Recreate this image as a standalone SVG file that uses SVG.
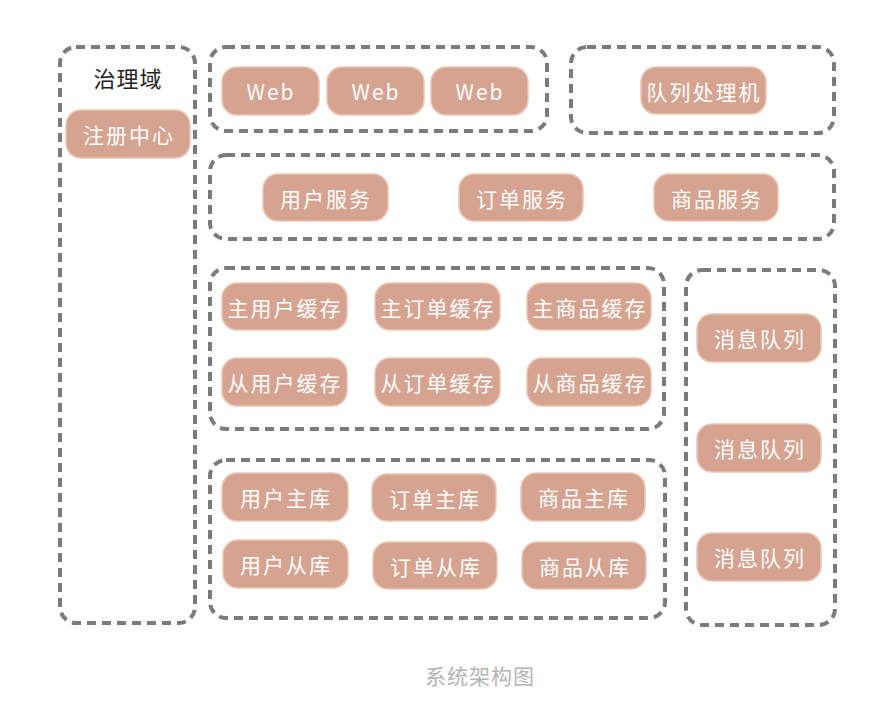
<svg xmlns="http://www.w3.org/2000/svg" width="884" height="722" viewBox="0 0 884 722">
  <style>
    .zone { fill: none; stroke: #7b7b7b; stroke-width: 4; stroke-dasharray: 9 6; }
    .node rect { fill: #d6a390; stroke: #ecc6b6; stroke-width: 1.5; }
    .node text, .title, .caption { font-family: "Noto Sans CJK SC", "Noto Sans", sans-serif; text-anchor: middle; dominant-baseline: central; }
    .node text { fill: #ffffff; font-size: 21px; letter-spacing: 2px; }
    .title { fill: #222222; font-size: 22px; letter-spacing: 1px; }
    .caption { fill: #b4b4b4; font-size: 21px; letter-spacing: 1px; }
  </style>
  <rect width="884" height="722" fill="#ffffff"/>

  <!-- dashed zones -->
  <g id="zones">
    <rect id="zone-governance" class="zone" x="60" y="47" width="135" height="576" rx="16"/>
    <rect id="zone-web" class="zone" x="210" y="47" width="337" height="84" rx="16"/>
    <rect id="zone-queue-worker" class="zone" x="571" y="47" width="263" height="86" rx="16"/>
    <rect id="zone-services" class="zone" x="210" y="155" width="624" height="84" rx="16"/>
    <rect id="zone-cache" class="zone" x="210" y="268" width="454" height="161" rx="16"/>
    <rect id="zone-db" class="zone" x="210" y="460" width="455" height="158" rx="16"/>
    <rect id="zone-mq" class="zone" x="686" y="270" width="149" height="355" rx="16"/>
  </g>

  <text class="title" x="128" y="77">治理域</text>

  <!-- connectors: none drawn -->
  <g id="connectors"></g>

  <g id="registry" class="node"><rect x="66" y="110" width="124" height="48" rx="15"/><text x="129" y="134">注册中心</text></g>

  <g id="web-1" class="node"><rect x="222" y="67" width="97" height="48" rx="15"/><text x="271" y="91">Web</text></g>
  <g id="web-2" class="node"><rect x="327" y="67" width="97" height="48" rx="15"/><text x="376" y="91">Web</text></g>
  <g id="web-3" class="node"><rect x="431" y="67" width="97" height="48" rx="15"/><text x="480" y="91">Web</text></g>

  <g id="queue-worker" class="node"><rect x="641" y="67" width="125" height="47" rx="15"/><text x="704" y="91">队列处理机</text></g>

  <g id="svc-user" class="node"><rect x="263" y="174" width="125" height="47" rx="15"/><text x="326" y="198">用户服务</text></g>
  <g id="svc-order" class="node"><rect x="459" y="174" width="124" height="47" rx="15"/><text x="522" y="198">订单服务</text></g>
  <g id="svc-product" class="node"><rect x="654" y="174" width="124" height="47" rx="15"/><text x="717" y="198">商品服务</text></g>

  <g id="cache-user-master" class="node"><rect x="222" y="283" width="125" height="47" rx="15"/><text x="285" y="307">主用户缓存</text></g>
  <g id="cache-order-master" class="node"><rect x="375" y="283" width="125" height="47" rx="15"/><text x="438" y="307">主订单缓存</text></g>
  <g id="cache-product-master" class="node"><rect x="527" y="283" width="124" height="47" rx="15"/><text x="590" y="307">主商品缓存</text></g>
  <g id="cache-user-slave" class="node"><rect x="222" y="358" width="125" height="48" rx="15"/><text x="285" y="382">从用户缓存</text></g>
  <g id="cache-order-slave" class="node"><rect x="375" y="358" width="125" height="48" rx="15"/><text x="438" y="382">从订单缓存</text></g>
  <g id="cache-product-slave" class="node"><rect x="527" y="358" width="124" height="48" rx="15"/><text x="590" y="382">从商品缓存</text></g>

  <g id="db-user-master" class="node"><rect x="222" y="473" width="126" height="48" rx="15"/><text x="286" y="497">用户主库</text></g>
  <g id="db-order-master" class="node"><rect x="372" y="474" width="124" height="47" rx="15"/><text x="435" y="498">订单主库</text></g>
  <g id="db-product-master" class="node"><rect x="521" y="473" width="124" height="48" rx="15"/><text x="584" y="497">商品主库</text></g>
  <g id="db-user-slave" class="node"><rect x="223" y="540" width="125" height="48" rx="15"/><text x="286" y="564">用户从库</text></g>
  <g id="db-order-slave" class="node"><rect x="373" y="542" width="124" height="47" rx="15"/><text x="436" y="566">订单从库</text></g>
  <g id="db-product-slave" class="node"><rect x="522" y="542" width="124" height="47" rx="15"/><text x="585" y="566">商品从库</text></g>

  <g id="mq-1" class="node"><rect x="697" y="314" width="124" height="48" rx="15"/><text x="760" y="338">消息队列</text></g>
  <g id="mq-2" class="node"><rect x="697" y="424" width="124" height="48" rx="15"/><text x="760" y="448">消息队列</text></g>
  <g id="mq-3" class="node"><rect x="697" y="533" width="124" height="48" rx="15"/><text x="760" y="557">消息队列</text></g>

  <text class="caption" x="480" y="675">系统架构图</text>
</svg>
